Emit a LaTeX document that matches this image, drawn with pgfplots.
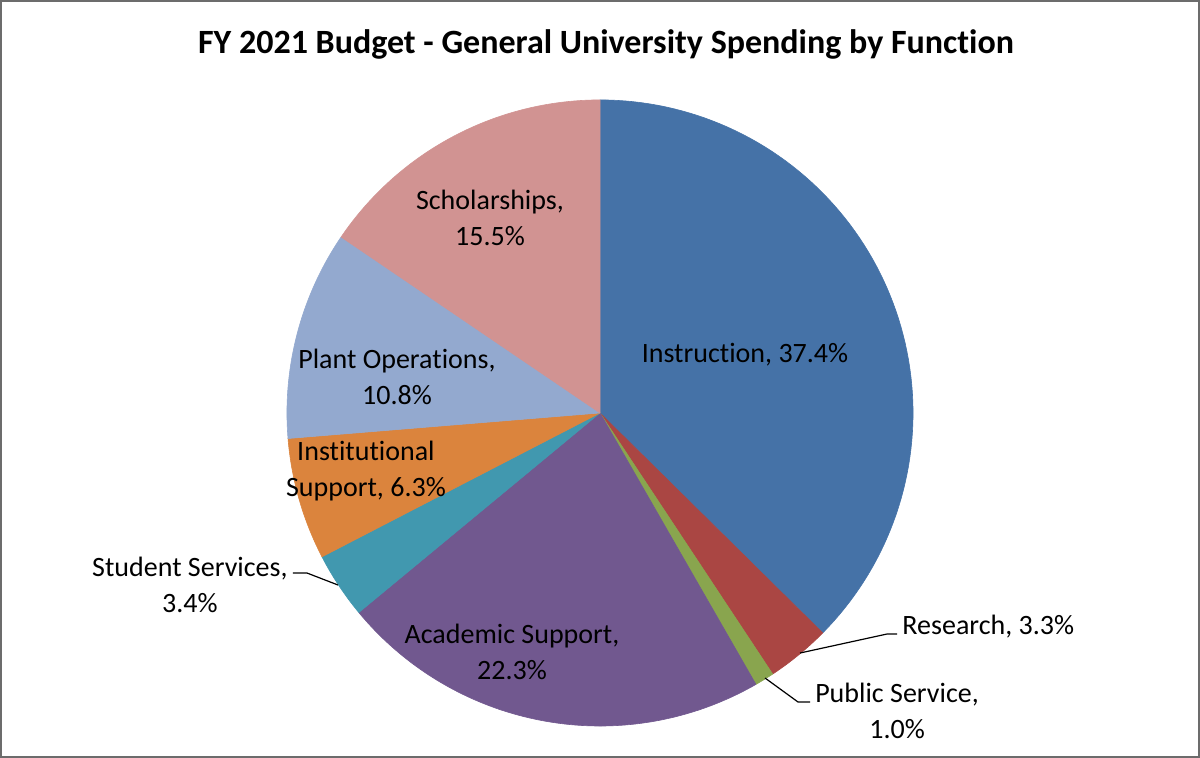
\documentclass[border=0pt]{standalone}
\usepackage{pgfplots}
\pgfplotsset{compat=1.18}
\usepackage{fontspec}
\setmainfont{Carlito}[Ligatures=NoCommon]
\definecolor{cInstr}{HTML}{4572A7}
\definecolor{cRes}{HTML}{AA4643}
\definecolor{cPub}{HTML}{89A54E}
\definecolor{cAcad}{HTML}{71588F}
\definecolor{cStud}{HTML}{4198AF}
\definecolor{cInst}{HTML}{DB843D}
\definecolor{cPlant}{HTML}{93A9CF}
\definecolor{cSchol}{HTML}{D19392}
\tikzset{lbl/.style={font=\fontsize{14}{18}\selectfont, align=center, inner sep=1pt}}
% shares (percent): Instruction 37.4, Research 3.3, Public Service 1.0,
% Academic Support 22.3, Student Services 3.4, Institutional Support 6.3,
% Plant Operations 10.8, Scholarships 15.5
% #1 = cumulative start, #2 = cumulative end (percent), #3 = colour
\newcommand{\slice}[3]{%
  \addplot[fill=#3, draw=#3, line width=0.3pt, line join=round,
    domain={90-3.6*(#2)}:{90-3.6*(#1)}, samples=90, variable=\t]
    ({600+313*cos(\t)},{413-313*sin(\t)}) -- (axis cs:600,413) -- cycle;}
\begin{document}
\begin{tikzpicture}
\begin{axis}[
  x=0.5pt, y=0.5pt, y dir=reverse,
  xmin=0, xmax=1200, ymin=0, ymax=758,
  hide axis, clip=false,
]
\slice{0}{37.4}{cInstr}
\slice{37.4}{40.7}{cRes}
\slice{40.7}{41.7}{cPub}
\slice{41.7}{64.0}{cAcad}
\slice{64.0}{67.4}{cStud}
\slice{67.4}{73.7}{cInst}
\slice{73.7}{84.5}{cPlant}
\slice{84.5}{100}{cSchol}
\draw[draw=gray!85!black, line width=0.9pt] (axis cs:1,1) rectangle (axis cs:1199,757);
\node[font=\fontsize{17}{20}\selectfont\bfseries] at (axis cs:606,45) {FY 2021 Budget - General University Spending by Function};
\node[lbl] at (axis cs:745,355) {Instruction, 37.4\%};
\node[lbl] at (axis cs:490,218) {Scholarships,\\15.5\%};
\node[lbl] at (axis cs:397,377) {Plant Operations,\\10.8\%};
\node[lbl] at (axis cs:366,471) {Institutional\\Support, 6.3\%};
\node[lbl] at (axis cs:512,652) {Academic Support,\\22.3\%};
\node[lbl] at (axis cs:190,585) {Student Services,\\3.4\%};
\node[lbl, anchor=west] at (axis cs:900,627) {Research, 3.3\%};
\node[lbl] at (axis cs:897,711) {Public Service,\\1.0\%};
\draw[black, line width=0.6pt] (axis cs:800,653) -- (axis cs:887,634) -- (axis cs:897,634);
\draw[black, line width=0.6pt] (axis cs:765,678) -- (axis cs:798,702) -- (axis cs:810,702);
\draw[black, line width=0.6pt] (axis cs:293,573) -- (axis cs:307,573) -- (axis cs:338,585);
\end{axis}
\end{tikzpicture}
\end{document}
